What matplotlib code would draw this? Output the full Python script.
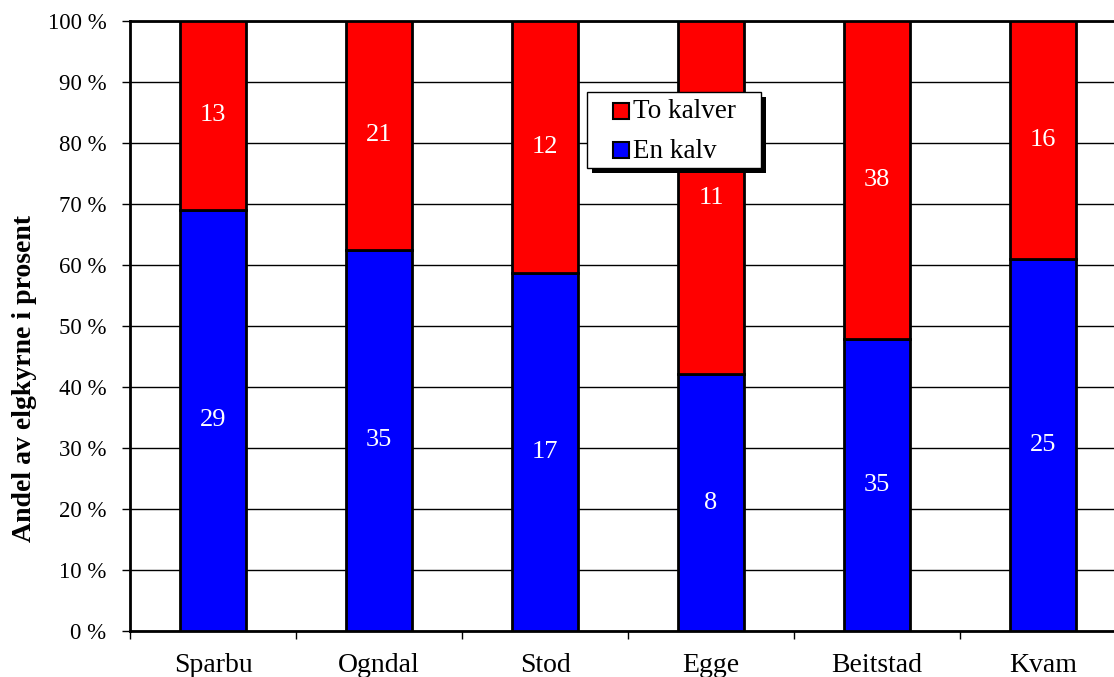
import matplotlib
matplotlib.use("Agg")
import matplotlib.pyplot as plt
from matplotlib.patches import Rectangle
import numpy as np

categories = ["Sparbu", "Ogndal", "Stod", "Egge", "Beitstad", "Kvam"]
en_kalv = [29, 35, 17, 8, 35, 25]
to_kalver = [13, 21, 12, 11, 38, 16]
series_names = ["To kalver", "En kalv"]
series_colors = ["#ff0000", "#0000ff"]

plt.rcParams['font.family'] = ['Liberation Serif', 'DejaVu Serif']

W, H = 1114, 677
fig = plt.figure(figsize=(W / 100, H / 100), dpi=100)
ax = fig.add_axes([130/W, 46/H, 996/W, 610/H])

en = np.array(en_kalv, float)
to = np.array(to_kalver, float)
tot = en + to
en_p = en / tot * 100
to_p = to / tot * 100
x = np.arange(len(categories))

ax.set_axisbelow(True)
ax.yaxis.grid(True, color='black', linewidth=1)
b1 = ax.bar(x, en_p, width=0.4, color=series_colors[1], edgecolor='black', linewidth=2, zorder=3)
b2 = ax.bar(x, to_p, bottom=en_p, width=0.4, color=series_colors[0], edgecolor='black', linewidth=2, zorder=3)

for i in range(len(categories)):
    ax.text(x[i], en_p[i] / 2, str(en_kalv[i]), ha='center', va='center', color='white', fontsize=19, zorder=4)
    ax.text(x[i], en_p[i] + to_p[i] / 2, str(to_kalver[i]), ha='center', va='center', color='white', fontsize=19, zorder=4)

ax.set_xlim(-0.5, 5.5)
ax.set_ylim(0, 100)
ax.set_yticks(np.arange(0, 101, 10))
ax.set_yticklabels([f"{v} %" for v in range(0, 101, 10)], fontsize=16.5)
ax.set_xticks(np.arange(-0.5, 5.6, 1))
ax.set_xticklabels([])
ax.set_xticks(x, minor=True)
ax.set_xticklabels(categories, minor=True, fontsize=20)
ax.tick_params(axis='x', which='minor', length=0, pad=15.5)
ax.tick_params(axis='x', which='major', length=6, width=1, direction='out')
ax.tick_params(axis='y', length=6, width=1, direction='out', pad=11)
for s in ['left', 'bottom', 'top']:
    ax.spines[s].set_linewidth(2)
ax.spines['right'].set_visible(False)

ax.set_ylabel("Andel av elgkyrne i prosent", fontsize=20, fontweight='bold')
ax.yaxis.set_label_coords((37 - 130) / 996, (631 - 378) / 610)

# legend (drawn in figure pixel coordinates)
def fx(px):
    return px / W
def fy(py):
    return (H - py) / H

lx0, lx1, ly0, ly1 = 587, 761, 92, 168
fig.patches.append(Rectangle((fx(lx0 + 5), fy(ly1 + 5)), (lx1 - lx0) / W, (ly1 - ly0) / H,
                             transform=fig.transFigure, facecolor='black', edgecolor='none', zorder=5))
fig.patches.append(Rectangle((fx(lx0), fy(ly1)), (lx1 - lx0) / W, (ly1 - ly0) / H,
                             transform=fig.transFigure, facecolor='white', edgecolor='black', linewidth=1, zorder=6))
row_y = [111, 150]
for name, col, ry in zip(series_names, series_colors, row_y):
    fig.patches.append(Rectangle((fx(613), fy(ry + 8)), 16 / W, 16 / H, transform=fig.transFigure,
                                 facecolor=col, edgecolor='black', linewidth=1.5, zorder=7))
    fig.text(fx(633), fy(ry + 1), name, ha='left', va='center', fontsize=19.5, zorder=8)

fig.savefig("out.png", dpi=100)
